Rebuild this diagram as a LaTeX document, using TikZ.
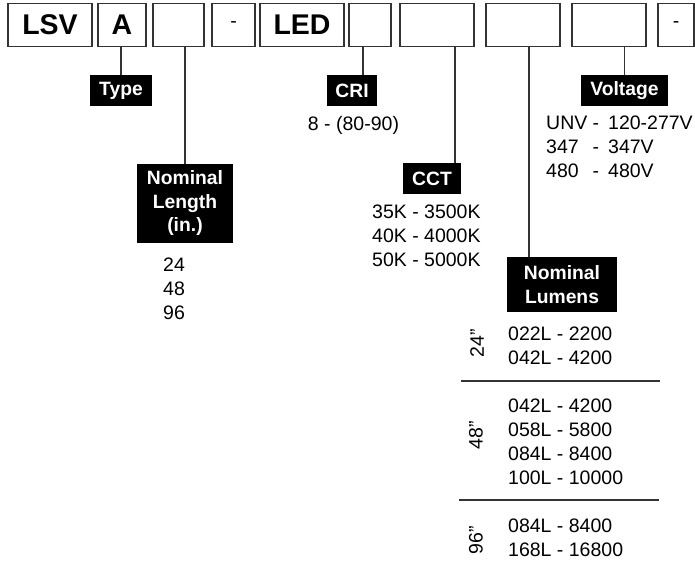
\documentclass[tikz,border=0pt]{standalone}
\usepackage{fontspec}
\setmainfont{Liberation Sans}
\usepackage{tikz}
\usetikzlibrary{calc}
\usetikzlibrary{positioning}
\tikzset{>=latex}
\tikzstyle{code} = [rectangle, draw=black!80, line width=1.3pt, minimum height=42.5pt, inner sep=0pt, font=\fontsize{28.5}{28.5}\selectfont\bfseries]
\tikzstyle{tag} = [rectangle, fill=black, text=white, inner sep=0pt, align=center, font=\fontsize{19.3}{23.5}\selectfont\bfseries]
\tikzstyle{opts} = [inner sep=0pt, align=left, anchor=north west, font=\fontsize{19.5}{24}\selectfont]
\tikzstyle{lead} = [-, line width=1.2pt, black!80]
\newcommand{\vcode}[1]{\makebox[46.5pt][l]{#1}-\hspace{9pt}}

\begin{document}
\begin{tikzpicture}[x=1pt, y=-1pt]
\useasboundingbox (0, 0) rectangle (695, 563);
% catalogue number boxes
\node [code, minimum width=84pt] (LSV) at (50, 25) {LSV};
\node [code, minimum width=48pt] (Typ) at (122, 25) {A};
\node [code, minimum width=51pt] (Len) at (178.5, 25) {};
\node [code, minimum width=43pt, font=\fontsize{19.5}{20}\selectfont] (D1) at (233.5, 25) {-};
\node [code, minimum width=84pt] (LED) at (302, 25) {LED};
\node [code, minimum width=42pt] (Cri) at (370, 25) {};
\node [code, minimum width=74pt] (Cct) at (437, 25) {};
\node [code, minimum width=74pt] (Lum) at (523, 25) {};
\node [code, minimum width=74pt] (Volt) at (609, 25) {};
\node [code, minimum width=36pt, font=\fontsize{19.5}{20}\selectfont] (D2) at (676, 25) {-};
% labels
\node [tag, minimum width=62pt, minimum height=31pt] (TypeL) at (121, 90.5) {Type};
\node [tag, minimum width=96pt, minimum height=79pt] (LenL) at (185, 203.5) {Nominal\\Length\\(in.)};
\node [tag, minimum width=50pt, minimum height=31pt] (CriL) at (352, 90.5) {CRI};
\node [tag, minimum width=58pt, minimum height=31pt] (CctL) at (432, 178.5) {CCT};
\node [tag, minimum width=87pt, minimum height=31pt] (VoltL) at (624.5, 90.5) {Voltage};
\node [tag, minimum width=110pt, minimum height=55pt] (LumL) at (562, 284.5) {Nominal\\Lumens};
\draw [lead] (TypeL.north |- Typ.south) to (TypeL.north);
\draw [lead] (LenL.north |- Len.south) to (LenL.north);
\draw [lead] ([xshift=-7pt]Cri.south) to ([xshift=-7pt]Cri.south |- CriL.north);
\draw [lead] ([xshift=18pt]Cct.south) to ([xshift=18pt]Cct.south |- CctL.north);
\draw [lead] ([xshift=6pt]Lum.south) to ([xshift=6pt]Lum.south |- LumL.north);
\draw [lead] (VoltL.north |- Volt.south) to (VoltL.north);
% options
\node [opts] (LenV) at (163, 258) {24\\48\\96};
\node [opts, anchor=base] (CriV) at (353.5, 130) {8 - (80-90)};
\node [opts] (CctV) at (372, 205) {35K - 3500K\\40K - 4000K\\50K - 5000K};
\node [opts] (VoltV) at (546, 116) {\vcode{UNV}120-277V\\\vcode{347}347V\\\vcode{480}480V};
\node [opts] (Lum24) at (508, 327) {022L - 2200\\042L - 4200};
\node [opts] (Lum48) at (508, 399) {042L - 4200\\058L - 5800\\084L - 8400\\100L - 10000};
\node [opts] (Lum96) at (508, 519) {084L - 8400\\168L - 16800};
\node [opts, anchor=center, rotate=90] (In24) at (477, 343) {24”};
\node [opts, anchor=center, rotate=90] (In48) at (476, 435) {48”};
\node [opts, anchor=center, rotate=90] (In96) at (476, 540) {96”};
\coordinate (R1a) at (461, 381);
\coordinate (R1b) at (660, 381);
\coordinate (R2a) at (459, 500);
\coordinate (R2b) at (659, 500);
\draw [lead] (R1a) to (R1b);
\draw [lead] (R2a) to (R2b);
\end{tikzpicture}
\end{document}
